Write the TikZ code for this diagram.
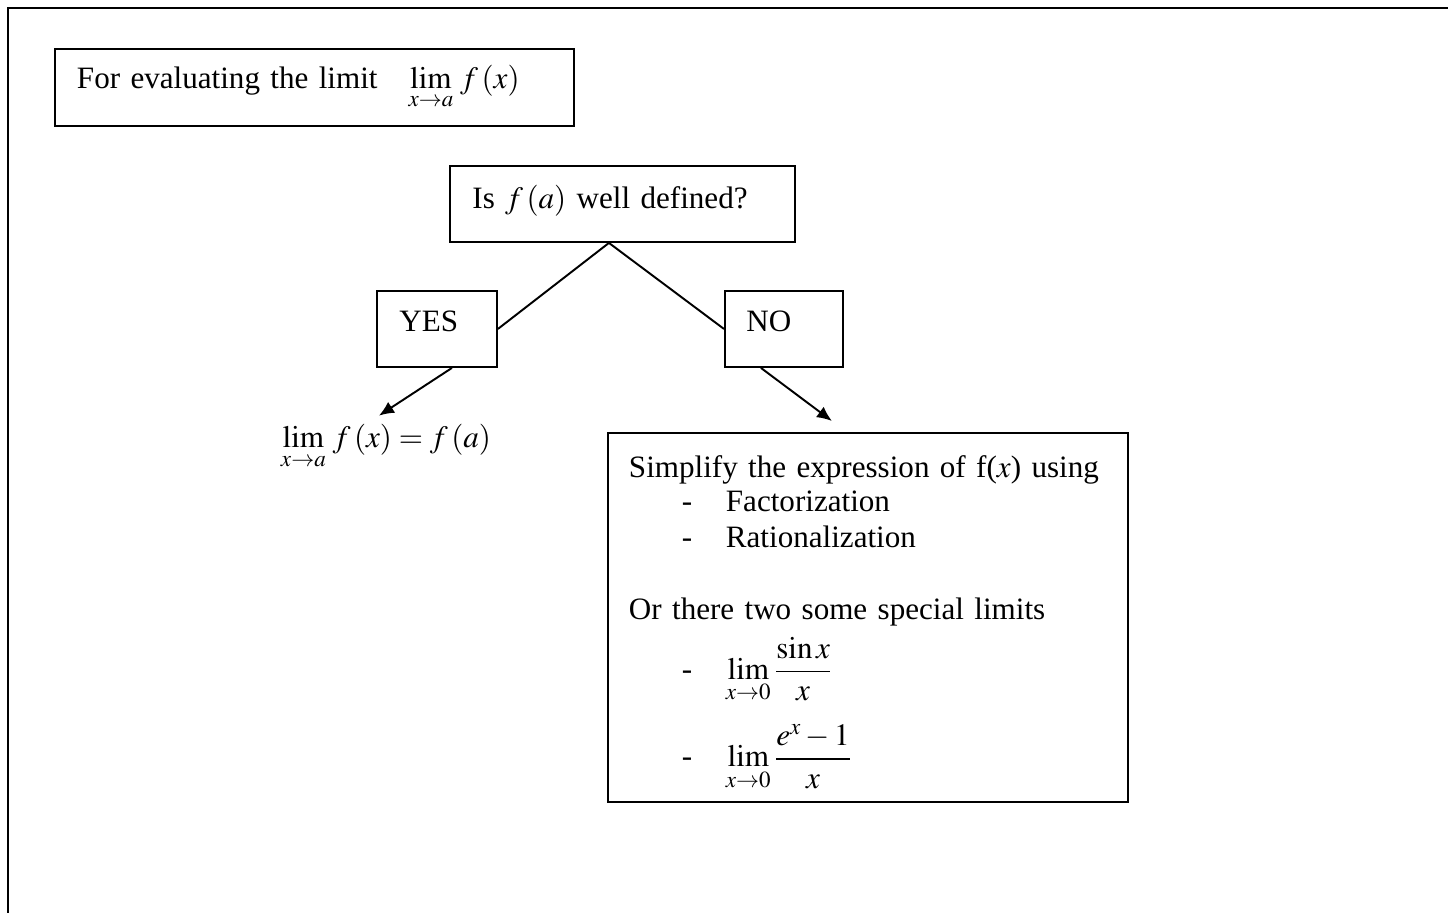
\documentclass[tikz,border=0pt]{standalone}
\usepackage{mathptmx}
\usepackage{fontspec}
\setmainfont{Liberation Serif}
\usetikzlibrary{arrows.meta,positioning,calc}

\newcommand{\dashitem}{\hspace*{1.06cm}\makebox[0.88cm][l]{-}}

\begin{document}
\begin{tikzpicture}[
  x=0.02cm, y=-0.02cm,
  >={Latex[length=3mm,width=2.6mm]},
  every node/.style={font=\fontsize{17.7}{20.5}\selectfont},
  box/.style={draw, line width=1.1pt, anchor=north west, align=left, inner xsep=0.42cm},
  link/.style={line width=1.1pt}
]
\useasboundingbox (0,0) rectangle (1448,913);
% outer frame (cut off on the right and at the bottom)
\draw[line width=1.2pt] (8,930) -- (8,8) -- (1460,8);

\node[box, minimum width=10.38cm, minimum height=1.54cm, text width=9.5cm] (title) at (54,48)
  {For evaluating the limit\hspace{0.62cm}$\lim\limits_{x\to a}\, f\,(x)$};
\node[box, minimum width=6.9cm, minimum height=1.52cm, text width=6cm, text depth=0.3cm] (ask) at (449,165)
  {Is $f\,(a)$ well defined?};
\node[box, minimum width=2.4cm, minimum height=1.52cm, text width=1.5cm, text depth=0.3cm] (yes) at (376,290) {YES};
\node[box, minimum width=2.36cm, minimum height=1.52cm, text width=1.5cm, text depth=0.3cm] (no) at (724,290) {NO};
\node (res) at (386,447) {$\lim\limits_{x\to a}\, f\,(x) = f\,(a)$};
\node[box, minimum width=10.4cm, minimum height=7.38cm, text width=9.56cm] (simp) at (607,432)
  {\rule{0pt}{19pt}Simplify the expression of f($x$) using\\[-1pt]
   \dashitem Factorization\\
   \dashitem Rationalization\\[20.5pt]
   Or there two some special limits\\[5pt]
   \dashitem$\displaystyle\lim_{x\to0}\frac{\sin x}{x}$\\[11pt]
   \dashitem$\displaystyle\lim_{x\to0}\frac{e^{x}-1}{x}$};

\draw[link] ([xshift=-0.27cm]ask.south) -- (yes.east);
\draw[link] ([xshift=-0.27cm]ask.south) -- (no.west);
\draw[link, ->] ([xshift=0.3cm]yes.south) -- ([xshift=-0.14cm, yshift=0.05cm]res.north);
\draw[link, ->] ([xshift=-0.46cm]no.south) -- ([xshift=-0.72cm, yshift=0.22cm]simp.north);
\end{tikzpicture}
\end{document}
